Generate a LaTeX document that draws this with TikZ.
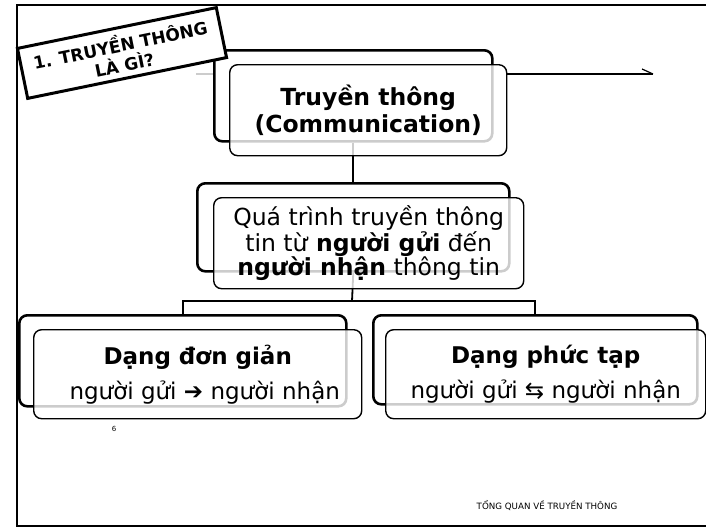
\documentclass[tikz,border=0pt]{standalone}
\usepackage{fontspec}
\setmainfont{DejaVu Sans}
\begin{document}
\begin{tikzpicture}[x=1pt,y=-1pt,
  backbox/.style={draw=black,line width=2.6pt,rounded corners=8pt,fill=white,anchor=north west,inner sep=0pt},
  frontbox/.style={draw=black,line width=1.4pt,rounded corners=8pt,fill=white,fill opacity=0.8,text opacity=1,
    anchor=north west,inner sep=0pt,align=center},
  link/.style={draw=black,line width=1.8pt}
]
\useasboundingbox (0,0) rectangle (706,528);
% slide frame (open on the right)
\draw[line width=2.6pt] (710,5) -- (17,5) -- (17,526) -- (710,526);

% faint guide line on the left of the main box
\draw[gray!40,line width=1.2pt] (196,74) -- (229,74);

% back layers
\node[backbox,minimum width=278,minimum height=91] (tb) at (213,49) {};
\node[backbox,minimum width=312,minimum height=88] (mb) at (196,182) {};
\node[backbox,minimum width=327,minimum height=91] (lb) at (18,314) {};
\node[backbox,minimum width=324,minimum height=89] (rb) at (372,314) {};

% connectors of the tree
\coordinate (split) at (352,301);
\draw[link] (tb.south) -- (mb.north);
\draw[link] (mb.south) -- (split);
\draw[link] (lb.north) |- (split) -| (rb.north);

% front layers with their texts
\node[frontbox,font=\fontsize{23.5}{27}\selectfont\bfseries,minimum width=277,minimum height=91] (tf) at (229,64)
  {Truyền thông\\(Communication)};
\node[frontbox,font=\fontsize{23.5}{24}\selectfont,minimum width=310,minimum height=91] (mf) at (213,197)
  {Quá trình truyền thông\\tin từ \textbf{người gửi} đến\\\textbf{người nhận} thông tin};
\node[frontbox,font=\fontsize{23}{27}\selectfont,minimum width=328,minimum height=89] (lf) at (33,329)
  {\textbf{Dạng đơn giản}\\[8pt]\hspace*{14pt}người gửi ➔ người nhận};
\node[frontbox,font=\fontsize{23}{27}\selectfont,minimum width=320,minimum height=89] (rf) at (385,329)
  {\textbf{Dạng phức tạp}\\[8pt]người gửi ⇆ người nhận};

% outgoing line with a half arrow head
\coordinate (tip) at (653,74);
\draw[line width=1.2pt] (tf.east |- tip) -- (tip);
\draw[line width=1.2pt] (tip) -- ++(-11,-5);

% title tag
\node[draw=black,line width=3pt,fill=white,rotate=11.6,minimum width=203,minimum height=51,inner sep=0pt,
  align=center,font=\fontsize{17}{20}\selectfont\bfseries] (title) at (122,53)
  {1. TRUYỀN THÔNG\\LÀ GÌ?};

% page number and footer
\node[font=\fontsize{7}{8}\selectfont] (page) at (114,429) {6};
\node[font=\fontsize{8.7}{10}\selectfont] (footer) at (547,506) {TỔNG QUAN VỀ TRUYỀN THÔNG};
\end{tikzpicture}
\end{document}
